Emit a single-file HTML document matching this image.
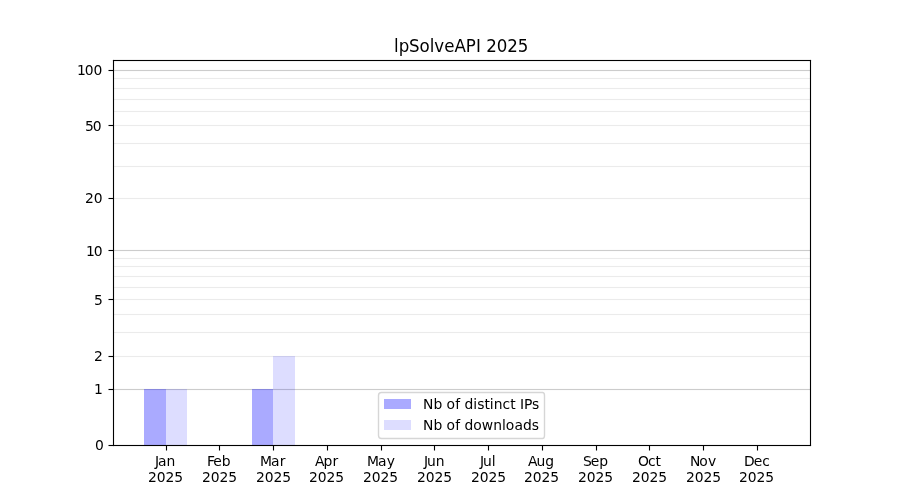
<!DOCTYPE html>
<html><head><meta charset="utf-8"><title>lpSolveAPI 2025</title>
<style>
html,body{margin:0;padding:0;background:#fff;}
svg{display:block;will-change:transform;}
text{font-family:"DejaVu Sans","Liberation Sans",sans-serif;font-size:13.8889px;fill:#000;}
text.t{font-size:16.6667px;}
</style></head>
<body>
<svg width="900" height="500" viewBox="0 0 900 500">
<rect x="0" y="0" width="900" height="500" fill="#fff"/>
<rect x="113.000" y="355.944" width="697.500" height="1.111" fill="#ebebeb"/>
<rect x="113.000" y="331.944" width="697.500" height="1.111" fill="#ebebeb"/>
<rect x="113.000" y="313.944" width="697.500" height="1.111" fill="#ebebeb"/>
<rect x="113.000" y="298.944" width="697.500" height="1.111" fill="#ebebeb"/>
<rect x="113.000" y="286.944" width="697.500" height="1.111" fill="#ebebeb"/>
<rect x="113.000" y="275.944" width="697.500" height="1.111" fill="#ebebeb"/>
<rect x="113.000" y="265.944" width="697.500" height="1.111" fill="#ebebeb"/>
<rect x="113.000" y="257.944" width="697.500" height="1.111" fill="#ebebeb"/>
<rect x="113.000" y="197.944" width="697.500" height="1.111" fill="#ebebeb"/>
<rect x="113.000" y="165.944" width="697.500" height="1.111" fill="#ebebeb"/>
<rect x="113.000" y="142.944" width="697.500" height="1.111" fill="#ebebeb"/>
<rect x="113.000" y="124.944" width="697.500" height="1.111" fill="#ebebeb"/>
<rect x="113.000" y="110.944" width="697.500" height="1.111" fill="#ebebeb"/>
<rect x="113.000" y="98.944" width="697.500" height="1.111" fill="#ebebeb"/>
<rect x="113.000" y="87.944" width="697.500" height="1.111" fill="#ebebeb"/>
<rect x="113.000" y="77.944" width="697.500" height="1.111" fill="#ebebeb"/>
<rect x="113.000" y="388.944" width="697.500" height="1.111" fill="#cccccc"/>
<rect x="113.000" y="249.944" width="697.500" height="1.111" fill="#cccccc"/>
<rect x="113.000" y="69.944" width="697.500" height="1.111" fill="#cccccc"/>
<rect x="144.000" y="389.000" width="22.000" height="56.000" fill="rgba(0,0,255,0.333333)"/>
<rect x="166.000" y="389.000" width="21.000" height="56.000" fill="rgba(0,0,255,0.133333)"/>
<rect x="252.000" y="389.000" width="21.000" height="56.000" fill="rgba(0,0,255,0.333333)"/>
<rect x="273.000" y="356.000" width="22.000" height="89.000" fill="rgba(0,0,255,0.133333)"/>
<rect x="165.944" y="445.500" width="1.111" height="5.000" fill="#000"/>
<rect x="218.944" y="445.500" width="1.111" height="5.000" fill="#000"/>
<rect x="272.944" y="445.500" width="1.111" height="5.000" fill="#000"/>
<rect x="326.944" y="445.500" width="1.111" height="5.000" fill="#000"/>
<rect x="380.944" y="445.500" width="1.111" height="5.000" fill="#000"/>
<rect x="433.944" y="445.500" width="1.111" height="5.000" fill="#000"/>
<rect x="487.944" y="445.500" width="1.111" height="5.000" fill="#000"/>
<rect x="541.944" y="445.500" width="1.111" height="5.000" fill="#000"/>
<rect x="595.944" y="445.500" width="1.111" height="5.000" fill="#000"/>
<rect x="648.944" y="445.500" width="1.111" height="5.000" fill="#000"/>
<rect x="702.944" y="445.500" width="1.111" height="5.000" fill="#000"/>
<rect x="756.944" y="445.500" width="1.111" height="5.000" fill="#000"/>
<rect x="108.500" y="444.944" width="5.000" height="1.111" fill="#000"/>
<rect x="108.500" y="388.944" width="5.000" height="1.111" fill="#000"/>
<rect x="108.500" y="355.944" width="5.000" height="1.111" fill="#000"/>
<rect x="108.500" y="298.944" width="5.000" height="1.111" fill="#000"/>
<rect x="108.500" y="249.944" width="5.000" height="1.111" fill="#000"/>
<rect x="108.500" y="197.944" width="5.000" height="1.111" fill="#000"/>
<rect x="108.500" y="124.944" width="5.000" height="1.111" fill="#000"/>
<rect x="108.500" y="69.944" width="5.000" height="1.111" fill="#000"/>
<rect x="112.944" y="59.944" width="1.111" height="386.111" fill="#000"/>
<rect x="809.944" y="59.944" width="1.111" height="386.111" fill="#000"/>
<rect x="112.944" y="59.944" width="698.111" height="1.111" fill="#000"/>
<rect x="112.944" y="444.944" width="698.111" height="1.111" fill="#000"/>
<text x="154.875 157.875 166.500" y="465.597">Jan</text>
<text x="147.875 156.625 165.375 174.125" y="481.797">2025</text>
<text x="206.875 213.125 221.625" y="465.597">Feb</text>
<text x="201.875 210.625 219.375 228.125" y="481.547">2025</text>
<text x="260.000 271.000 279.625" y="465.597">Mar</text>
<text x="255.875 264.625 273.375 282.125" y="481.547">2025</text>
<text x="315.000 323.500 332.375" y="465.597">Apr</text>
<text x="308.875 317.625 326.375 335.125" y="481.797">2025</text>
<text x="367.000 378.000 386.625" y="465.597">May</text>
<text x="363.000 371.750 380.500 389.250" y="481.797">2025</text>
<text x="423.875 426.875 435.625" y="465.597">Jun</text>
<text x="416.875 425.625 434.375 443.125" y="481.797">2025</text>
<text x="479.875 482.875 491.625" y="465.597">Jul</text>
<text x="470.875 479.625 488.375 497.125" y="481.797">2025</text>
<text x="527.875 536.375 545.125" y="465.597">Aug</text>
<text x="523.875 532.625 541.375 550.125" y="481.797">2025</text>
<text x="582.875 590.625 599.125" y="465.597">Sep</text>
<text x="577.875 586.625 595.375 604.125" y="481.797">2025</text>
<text x="638.000 647.875 655.500" y="465.597">Oct</text>
<text x="631.875 640.625 649.375 658.125" y="481.547">2025</text>
<text x="689.875 699.250 707.875" y="465.597">Nov</text>
<text x="685.875 694.625 703.375 712.125" y="481.547">2025</text>
<text x="743.875 753.625 762.125" y="465.597">Dec</text>
<text x="738.875 747.625 756.375 765.125" y="481.547">2025</text>
<text x="94.875" y="449.500">0</text>
<text x="93.875" y="393.532">1</text>
<text x="93.875" y="360.574">2</text>
<text x="93.875" y="304.606">5</text>
<text x="85.875 93.750" y="255.586">10</text>
<text x="84.875 93.625" y="202.525">20</text>
<text x="84.875 92.625" y="130.525">50</text>
<text x="76.875 84.750 93.500" y="74.608">100</text>
<text class="t" transform="matrix(1 0 0 1.08 0 51.542)" x="394.000 398.750 409.125 419.625 429.750 434.375 444.250 454.500 465.875 476.000 480.875 486.250 496.750 507.250 517.875" y="0">lpSolveAPI 2025</text>
<path d="M381.5 438.5 L542.5 438.5 Q544.5 438.5 544.5 435.5 L544.5 395.5 Q544.5 392.5 542.5 392.5 L381.5 392.5 Q378.5 392.5 378.5 395.5 L378.5 435.5 Q378.5 438.5 381.5 438.5 Z" fill="rgba(255,255,255,0.8)" stroke="rgba(204,204,204,0.8)" stroke-width="1.389" stroke-linejoin="miter"/>
<rect x="384" y="399" width="27" height="10" fill="rgba(0,0,255,0.333333)"/>
<rect x="384" y="420" width="27" height="10" fill="rgba(0,0,255,0.133333)"/>
<text x="423.000 433.375 442.250 446.375 455.125 460.125 464.500 473.125 477.250 484.375 489.625 493.750 502.500 510.125 515.625 520.000 524.000 531.875" y="408.556">Nb of distinct IPs</text>
<text x="423.000 433.375 442.250 446.375 455.125 460.125 464.500 473.125 481.625 493.250 502.000 505.625 514.375 523.000 531.625" y="429.500">Nb of downloads</text>
</svg>
</body></html>
